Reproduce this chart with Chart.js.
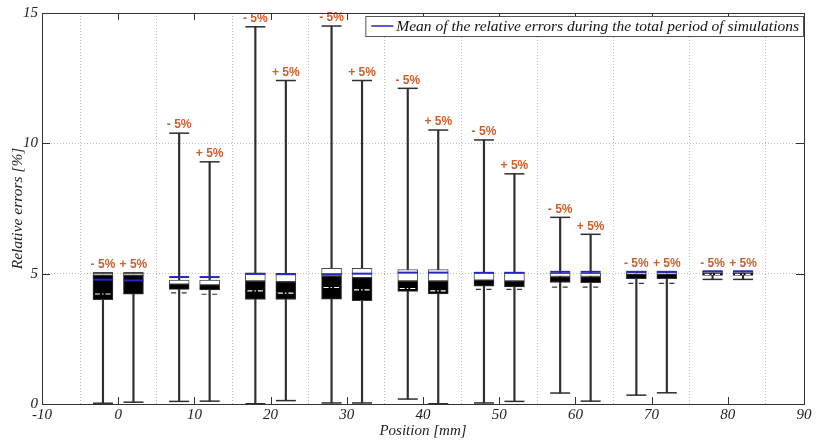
<!DOCTYPE html>
<html>
<head>
<meta charset="utf-8">
<script src="https://cdn.jsdelivr.net/npm/chart.js@4"></script>
<style>
  html, body { margin: 0; padding: 0; background: #fff; }
  #wrap { width: 816px; height: 440px; }
</style>
</head>
<body>
<div id="wrap"><canvas id="errChart" width="816" height="440"></canvas></div>
<script>
// sensor positions (mm), two runs per station: -5% and +5%
const positions = [-2, 2, 8, 12, 18, 22, 28, 32, 38, 42, 48, 52, 58, 62, 68, 72, 78, 82];
const runLabels = ['- 5%', '+ 5%', '- 5%', '+ 5%', '- 5%', '+ 5%', '- 5%', '+ 5%', '- 5%', '+ 5%',
                   '- 5%', '+ 5%', '- 5%', '+ 5%', '- 5%', '+ 5%', '- 5%', '+ 5%'];

// relative errors [%]
const minVals   = [0.03, 0.07, 0.10, 0.11, 0.01, 0.13, 0.04, 0.04, 0.19, 0.01, 0.04, 0.10, 0.42, 0.11, 0.34, 0.43, 4.78, 4.78];
const maxVals   = [5.03, 5.03, 10.39, 9.29, 14.47, 12.41, 14.50, 12.41, 12.11, 10.51, 10.13, 8.83, 7.16, 6.51, 5.07, 5.07, 5.08, 5.08];
const upperTop  = [5.03, 5.03, 4.75, 4.75, 5.03, 5.01, 5.20, 5.20, 5.16, 5.16, 5.06, 5.06, 5.01, 5.01, 5.03, 5.03, 5.07, 5.07];
const upperBot  = [4.94, 4.94, 4.60, 4.57, 4.72, 4.69, 4.91, 4.85, 4.72, 4.72, 4.75, 4.72, 4.89, 4.89, 4.98, 4.98, 5.03, 5.03];
const lowerBot  = [4.00, 4.21, 4.40, 4.38, 4.01, 4.01, 4.02, 3.96, 4.32, 4.22, 4.52, 4.49, 4.66, 4.65, 4.81, 4.81, 4.93, 4.93];
const meanVals  = [4.77, 4.74, 4.87, 4.87, 4.99, 4.98, 4.98, 5.00, 5.04, 5.04, 5.03, 5.03, 5.07, 5.07, 5.07, 5.07, 5.09, 5.09];
const dashVals  = [4.22, null, 4.26, 4.21, 4.34, 4.25, 4.47, 4.38, 4.43, 4.34, 4.40, 4.40, 4.48, 4.48, 4.63, 4.63, 4.97, 4.97];

const xTicks = { min: -10, max: 90, step: 10 };
const yTicks = { min: 0, max: 15, step: 5 };

const BOX_W = 20;
const SERIF = '"Liberation Serif", "DejaVu Serif", serif';
const MEAN_BLUE = '#2626c4';
const RUN_ORANGE = '#cc5f2a';

const boxExtras = {
  id: 'boxExtras',
  afterDatasetsDraw(chart) {
    const { ctx, chartArea: a, scales: { x, y } } = chart;
    ctx.save();

    // dash-dot marker for each run
    ctx.lineWidth = 1.2;
    ctx.setLineDash([5, 2, 1.5, 2]);
    positions.forEach((p, i) => {
      const v = dashVals[i];
      if (v == null) return;
      const px = x.getPixelForValue(p), py = y.getPixelForValue(v);
      ctx.strokeStyle = (v > lowerBot[i] && v < upperBot[i]) ? '#ffffff' : '#333333';
      ctx.beginPath();
      ctx.moveTo(px - BOX_W / 2 + 2, py);
      ctx.lineTo(px + BOX_W / 2 - 2, py);
      ctx.stroke();
    });
    ctx.setLineDash([]);

    // run labels above the whiskers
    ctx.fillStyle = RUN_ORANGE;
    ctx.font = 'bold 12px "Liberation Sans", Arial, sans-serif';
    ctx.textAlign = 'center';
    ctx.textBaseline = 'middle';
    positions.forEach((p, i) => {
      ctx.fillText(runLabels[i], x.getPixelForValue(p), y.getPixelForValue(maxVals[i]) - 8);
    });

    // frame and inward ticks
    ctx.strokeStyle = '#333';
    ctx.lineWidth = 1;
    ctx.strokeRect(a.left + 0.5, a.top + 0.5, a.right - a.left, a.bottom - a.top);
    ctx.beginPath();
    x.ticks.forEach(t => {
      const px = Math.round(x.getPixelForValue(t.value)) + 0.5;
      ctx.moveTo(px, a.bottom); ctx.lineTo(px, a.bottom - 7);
      ctx.moveTo(px, a.top); ctx.lineTo(px, a.top + 7);
    });
    y.ticks.forEach(t => {
      const py = Math.round(y.getPixelForValue(t.value)) + 0.5;
      ctx.moveTo(a.left, py); ctx.lineTo(a.left + 8, py);
      ctx.moveTo(a.right, py); ctx.lineTo(a.right - 8, py);
    });
    ctx.stroke();

    // legend box, top right inside the plot
    const text = chart.data.datasets[4].label;
    ctx.font = 'italic 15.5px ' + SERIF;
    const tw = ctx.measureText(text).width;
    const boxR = a.right, boxT = a.top + 3, boxH = 20;
    const boxL = boxR - tw - 36;
    ctx.fillStyle = '#fff';
    ctx.fillRect(boxL, boxT, boxR - boxL, boxH);
    ctx.strokeStyle = '#555';
    ctx.strokeRect(boxL + 0.5, boxT + 0.5, boxR - boxL - 1, boxH);
    ctx.strokeStyle = MEAN_BLUE;
    ctx.lineWidth = 1.5;
    ctx.beginPath();
    ctx.moveTo(boxL + 6, boxT + boxH / 2);
    ctx.lineTo(boxL + 28, boxT + boxH / 2);
    ctx.stroke();
    ctx.fillStyle = '#111';
    ctx.textAlign = 'left';
    ctx.fillText(text, boxL + 31, boxT + boxH / 2 + 1);

    ctx.restore();
  }
};

const pts = vals => positions.map((p, i) => ({ x: p, y: vals[i] }));
const span = (lo, hi) => positions.map((p, i) => ({ x: p, y: [lo[i], hi[i]] }));

new Chart(document.getElementById('errChart'), {
  type: 'bar',
  data: {
    datasets: [
      {
        label: 'whisker',
        data: span(minVals, maxVals),
        backgroundColor: '#2e2e2e',
        barThickness: 1.5,
        grouped: false,
        order: 4
      },
      {
        label: 'upper',
        data: span(upperBot, upperTop),
        backgroundColor: '#ffffff',
        borderColor: '#4a4a4a',
        borderWidth: 1,
        borderSkipped: false,
        barThickness: BOX_W,
        grouped: false,
        order: 3
      },
      {
        label: 'lower',
        data: span(lowerBot, upperBot),
        backgroundColor: '#000000',
        borderColor: '#333333',
        borderWidth: 1,
        borderSkipped: false,
        barThickness: BOX_W,
        grouped: false,
        order: 2
      },
      {
        type: 'scatter',
        label: 'caps',
        data: pts(minVals).concat(pts(maxVals)),
        pointStyle: 'line',
        pointRadius: BOX_W / 2,
        borderColor: '#2e2e2e',
        borderWidth: 1.5,
        order: 1
      },
      {
        type: 'scatter',
        label: 'Mean of the relative errors during the total period of simulations',
        data: pts(meanVals),
        pointStyle: 'line',
        pointRadius: BOX_W / 2,
        borderColor: MEAN_BLUE,
        borderWidth: 2,
        order: 0
      }
    ]
  },
  options: {
    responsive: false,
    animation: false,
    layout: { padding: { top: 10, right: 10, left: 0, bottom: 0 } },
    plugins: { legend: { display: false }, tooltip: { enabled: false } },
    scales: {
      x: {
        type: 'linear',
        offset: false,
        min: xTicks.min,
        max: xTicks.max,
        afterFit: s => { s.height = 36; },
        ticks: { stepSize: xTicks.step, padding: 2, color: '#222', font: { family: SERIF, style: 'italic', size: 15 } },
        grid: { color: '#bdbdbd', drawTicks: false },
        border: { display: false, dash: [1, 2] },
        title: {
          display: true,
          text: 'Position [mm]',
          color: '#222',
          padding: { top: 0, bottom: 0 },
          font: { family: SERIF, style: 'italic', size: 15, lineHeight: 1.2 }
        }
      },
      y: {
        min: yTicks.min,
        max: yTicks.max,
        afterFit: s => { s.width = 42; },
        ticks: { stepSize: yTicks.step, padding: 4, color: '#222', font: { family: SERIF, style: 'italic', size: 15 } },
        grid: { color: '#bdbdbd', drawTicks: false },
        border: { display: false, dash: [1, 2] },
        title: {
          display: true,
          text: 'Relative errors [%]',
          color: '#222',
          padding: { top: 9, bottom: 0 },
          font: { family: SERIF, style: 'italic', size: 15.5, lineHeight: 1.2 }
        }
      }
    }
  },
  plugins: [boxExtras]
});
</script>
</body>
</html>
